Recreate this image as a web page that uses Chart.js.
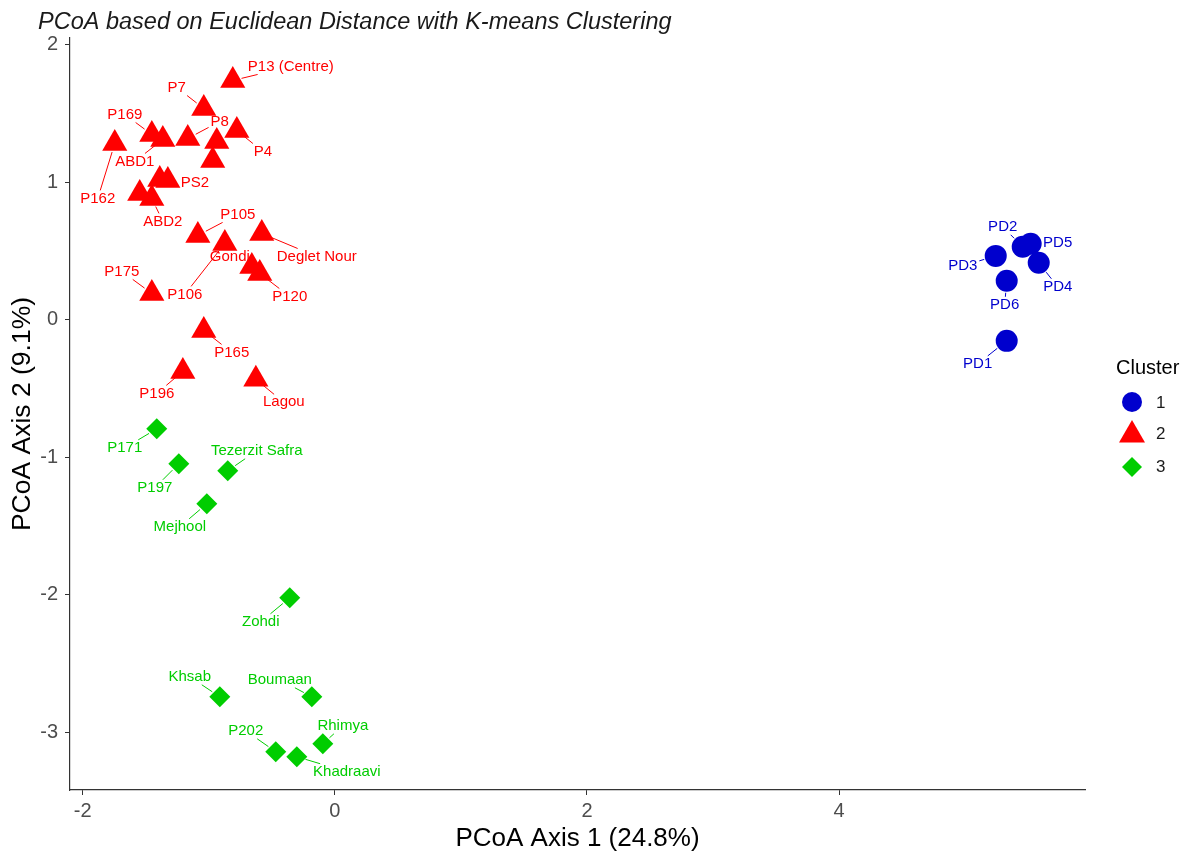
<!DOCTYPE html>
<html><head><meta charset="utf-8">
<script src="https://cdn.jsdelivr.net/npm/chart.js@4.4.1/dist/chart.umd.min.js"></script>
<style>html,body{margin:0;padding:0;background:#fff;}canvas{display:block;}</style>
</head><body>
<canvas id="c" width="1192" height="854"></canvas>
<script>
// ---------- data ----------
const chartTitle = 'PCoA based on Euclidean Distance with K-means Clustering';
const xAxisTitle = 'PCoA Axis 1 (24.8%)';
const yAxisTitle = 'PCoA Axis 2 (9.1%)';
const legendTitle = 'Cluster';
const clusterNames = ['1', '2', '3'];
const xTicks = [-2, 0, 2, 4];
const yTicks = [-3, -2, -1, 0, 1, 2];

const c1Names = ['PD2', 'PD5', 'PD4', 'PD3', 'PD6', 'PD1'];
const c1X = [5.456, 5.519, 5.583, 5.242, 5.329, 5.329];
const c1Y = [0.531, 0.553, 0.415, 0.465, 0.284, -0.153];

const c2Names = ['P13 (Centre)', 'P7', 'P169', 'ABD1', 'P8', null, 'P4', null, 'P162', 'PS2', null, 'ABD2', null,
  'P105', 'P106', 'Deglet Nour', 'Gondi', 'P120', 'P175', 'P165', 'P196', 'Lagou'];
const c2X = [-0.809, -1.039, -1.451, -1.364, -1.166, -0.936, -0.777, -0.968, -1.745, -1.324, -1.388, -1.451, -1.547,
  -1.086, -0.872, -0.579, -0.658, -0.595, -1.451, -1.039, -1.205, -0.626];
const c2Y = [1.741, 1.537, 1.348, 1.312, 1.319, 1.297, 1.377, 1.159, 1.283, 1.014, 1.021, 0.883, 0.919,
  0.614, 0.556, 0.628, 0.388, 0.337, 0.192, -0.077, -0.375, -0.433];

const c3Names = ['P171', 'P197', 'Tezerzit Safra', 'Mejhool', 'Zohdi', 'Khsab', 'Boumaan', 'P202', 'Khadraavi', 'Rhimya'];
const c3X = [-1.412, -1.237, -0.849, -1.015, -0.357, -0.912, -0.182, -0.468, -0.301, -0.095];
const c3Y = [-0.793, -1.047, -1.098, -1.338, -2.022, -2.742, -2.742, -3.142, -3.178, -3.084];

// ---------- label placement (pixel offsets from each point, repel-style) ----------
const c1LabelOffsets = [[-20, -20], [27, -1], [19, 24], [-33, 10], [-2, 24], [-29, 23]];
const c2LabelOffsets = [[58, -14], [-27, -21], [-27, -20], [-28, 22], [32, -17], null, [26, 21], null, [-17, 55], [27, 2], null, [11, 23], null,
  [40, -21], [-40, 51], [55, 23], [-22, -10], [30, 23], [-30, -22], [28, 22], [-26, 22], [28, 23]];
const c3LabelOffsets = [[-32, 19], [-24, 24], [29, -20], [-27, 23], [-29, 24], [-30, -20], [-32, -17], [-30, -21], [50, 15], [20, -18]];

// ---------- styles ----------
const FONT = '"Liberation Sans", Arial, Helvetica, sans-serif';
const COLORS = ['#0000CD', '#FF0000', '#00CD00'];
const STYLES = ['circle', 'triangle', 'rectRot'];
const RADII = [11, 14.5, 10.5];
const SEG_PAD = [12, 9, 9];

function pts(xs, ys) { return xs.map((x, i) => ({ x: x, y: ys[i] })); }

const datasets = [
  { label: clusterNames[0], data: pts(c1X, c1Y), names: c1Names, offsets: c1LabelOffsets },
  { label: clusterNames[1], data: pts(c2X, c2Y), names: c2Names, offsets: c2LabelOffsets },
  { label: clusterNames[2], data: pts(c3X, c3Y), names: c3Names, offsets: c3LabelOffsets }
].map((d, i) => Object.assign(d, {
  pointStyle: STYLES[i], pointRadius: RADII[i], pointHoverRadius: RADII[i],
  backgroundColor: COLORS[i], borderColor: COLORS[i], borderWidth: 0, showLine: false
}));

const labelPlugin = {
  id: 'repelLabels',
  afterDatasetsDraw(chart) {
    const ctx = chart.ctx;
    ctx.save();
    ctx.font = '15px ' + FONT;
    ctx.textAlign = 'center';
    ctx.textBaseline = 'middle';
    chart.data.datasets.forEach((ds, di) => {
      const meta = chart.getDatasetMeta(di);
      meta.data.forEach((el, j) => {
        const name = ds.names[j];
        const off = ds.offsets[j];
        if (!name || !off) return;
        const px = el.x, py = el.y;
        const lx = px + off[0], ly = py + off[1];
        const w = ctx.measureText(name).width;
        const hw = w / 2 + 2, hh = 8;
        const vx = px - lx, vy = py - ly;
        let f = Math.min(Math.abs(vx) > 0 ? hw / Math.abs(vx) : Infinity, Math.abs(vy) > 0 ? hh / Math.abs(vy) : Infinity);
        if (f < 1) {
          const bx = lx + vx * f, by = ly + vy * f;
          const dx = bx - px, dy = by - py;
          const len = Math.hypot(dx, dy);
          const pad = SEG_PAD[di];
          if (len - pad > 3) {
            const sx = px + dx / len * pad, sy = py + dy / len * pad;
            ctx.strokeStyle = COLORS[di];
            ctx.lineWidth = 1;
            ctx.beginPath();
            ctx.moveTo(sx, sy);
            ctx.lineTo(bx, by);
            ctx.stroke();
          }
        }
        ctx.fillStyle = COLORS[di];
        ctx.fillText(name, lx, ly);
      });
    });
    ctx.restore();
  },
  afterDraw(chart) {
    const ctx = chart.ctx;
    ctx.save();
    // title
    ctx.font = 'italic 23.5px ' + FONT;
    ctx.fillStyle = '#1a1a1a';
    ctx.textAlign = 'left';
    ctx.textBaseline = 'middle';
    ctx.fillText(chartTitle, 38, 22);
    // legend
    ctx.font = '20px ' + FONT;
    ctx.fillStyle = '#000';
    ctx.fillText(legendTitle, 1116, 368);
    const ys = [402, 435, 467];
    const lr = [10, 15, 10];
    ctx.font = '17px ' + FONT;
    clusterNames.forEach((n, i) => {
      ctx.fillStyle = COLORS[i];
      Chart.helpers.drawPoint(ctx, { pointStyle: STYLES[i], radius: lr[i], rotation: 0, borderWidth: 0 }, 1132, ys[i]);
      ctx.fillStyle = '#1a1a1a';
      ctx.textAlign = 'left';
      ctx.fillText(n, 1156, [403, 434, 467][i]);
    });
    ctx.restore();
  }
};

new Chart(document.getElementById('c'), {
  type: 'scatter',
  data: { datasets: datasets },
  options: {
    responsive: false,
    animation: false,
    devicePixelRatio: 1,
    layout: { padding: { left: 0, right: 107, top: 38, bottom: 0 } },
    plugins: { legend: { display: false }, tooltip: { enabled: false } },
    scales: {
      x: {
        type: 'linear', min: -2.1, max: 5.95,
        afterBuildTicks: s => { s.ticks = xTicks.map(v => ({ value: v })); },
        afterFit: s => { s.height = 64; },
        grid: { drawOnChartArea: false, drawTicks: true, tickLength: 5, color: '#333', lineWidth: 1 },
        border: { display: true, color: '#333', width: 1.2 },
        ticks: { color: '#4d4d4d', font: { family: FONT, size: 20 }, padding: 4, callback: v => String(v) },
        title: { display: true, text: xAxisTitle, color: '#000', font: { family: FONT, size: 26 }, padding: { top: 0, bottom: 0 } }
      },
      y: {
        type: 'linear', min: -3.42, max: 2.05,
        afterBuildTicks: s => { s.ticks = yTicks.map(v => ({ value: v })); },
        afterFit: s => { s.width = 70; },
        grid: { drawOnChartArea: false, drawTicks: true, tickLength: 5, color: '#333', lineWidth: 1 },
        border: { display: true, color: '#333', width: 1.2 },
        ticks: { color: '#4d4d4d', font: { family: FONT, size: 20 }, padding: 7, callback: v => String(v) },
        title: { display: true, text: yAxisTitle, color: '#000', font: { family: FONT, size: 26.5 }, padding: { top: 7, bottom: 0 } }
      }
    }
  },
  plugins: [labelPlugin]
});
</script>
</body></html>
